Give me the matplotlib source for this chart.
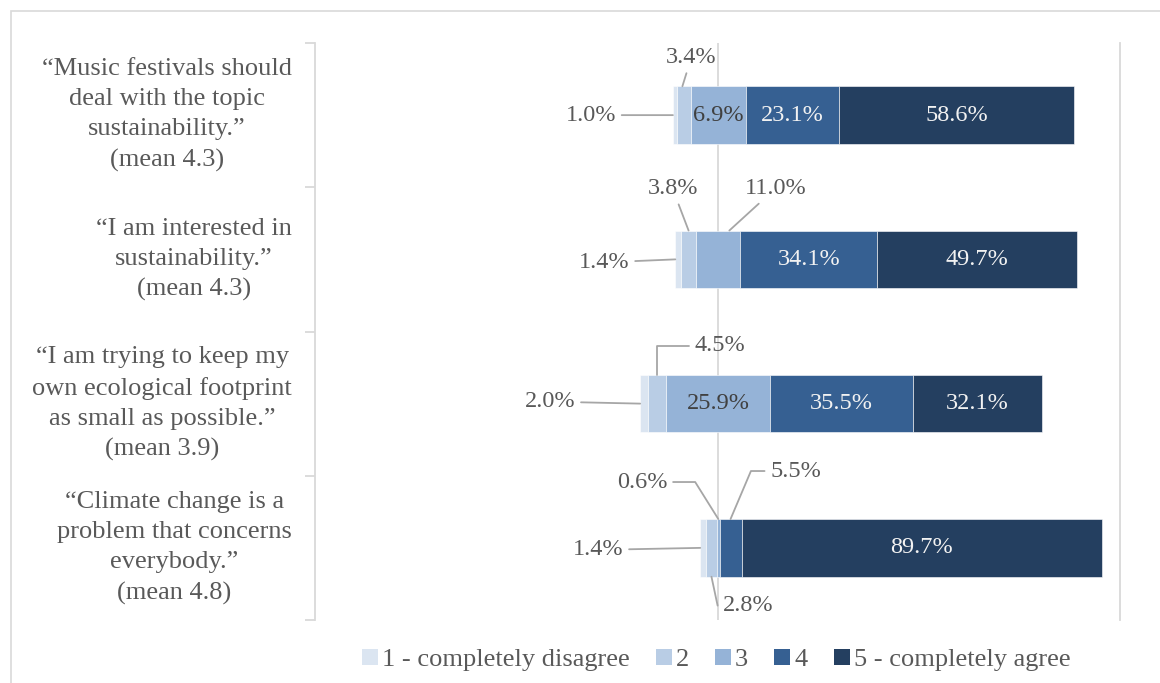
import matplotlib
matplotlib.use("Agg")
import matplotlib.pyplot as plt
from matplotlib.patches import Rectangle, Patch
import numpy as np

# ---- data ----
statements = [
    "\u201cMusic festivals should\ndeal with the topic\nsustainability.\u201d\n(mean 4.3)",
    "\u201cI am interested in\nsustainability.\u201d\n(mean 4.3)",
    "\u201cI am trying to keep my\nown ecological footprint\nas small as possible.\u201d\n(mean 3.9)",
    "\u201cClimate change is a\nproblem that concerns\neverybody.\u201d\n(mean 4.8)",
]
categories = ["1 - completely disagree", "2", "3", "4", "5 - completely agree"]
s1 = [1.0, 1.4, 2.0, 1.4]
s2 = [3.4, 3.8, 4.5, 2.8]
s3 = [13.8, 11.0, 25.9, 0.6]
s4 = [23.1, 34.1, 35.5, 5.5]
s5 = [58.6, 49.7, 32.1, 89.7]
lab1 = ["1.0%", "1.4%", "2.0%", "1.4%"]
lab2 = ["3.4%", "3.8%", "4.5%", "2.8%"]
lab3 = ["6.9%", "11.0%", "25.9%", "0.6%"]
lab4 = ["23.1%", "34.1%", "35.5%", "5.5%"]
lab5 = ["58.6%", "49.7%", "32.1%", "89.7%"]

colors = ["#dbe5f1", "#b9cde5", "#95b3d7", "#366092", "#243f60"]
series = [s1, s2, s3, s4, s5]
labels = [lab1, lab2, lab3, lab4, lab5]

FONT = "Liberation Serif"
TXT = "#595959"
GRID = "#d9d9d9"
FS = 17.5
FS_CAT = 19

W, H = 1160, 683
fig = plt.figure(figsize=(W / 100, H / 100), dpi=100)
fig.patches.append(Rectangle((11 / W, -0.1), 1.2, 1 - 11 / H + 0.1, transform=fig.transFigure,
                             fill=False, edgecolor=GRID, linewidth=1.2))
ax = fig.add_axes([315 / W, 1 - 620 / H, (1120 - 315) / W, (620 - 43) / H])

n = len(statements)
y = np.arange(n)
data = np.array(series)
left0 = -(data[0] + data[1] + data[2] / 2)
lefts = []
cur = left0.copy()
bar_h = 0.4
for k in range(5):
    ax.barh(y, data[k], left=cur, height=bar_h, color=colors[k], edgecolor="white",
            linewidth=0.4, label=categories[k], zorder=3)
    lefts.append(cur.copy())
    cur = cur + data[k]

ax.set_xlim(-100.4, 100)
ax.set_ylim(n - 0.5, -0.5)
ax.axvline(0, color=GRID, lw=1.3, zorder=1)
ax.axvline(100, color=GRID, lw=1.3, zorder=1, clip_on=False)
for sp in ["top", "right", "bottom"]:
    ax.spines[sp].set_visible(False)
ax.spines["left"].set_color(GRID)
ax.spines["left"].set_linewidth(1.3)
ax.set_xticks([])
ax.set_yticks(np.arange(-0.5, n, 1.0))
ax.set_yticklabels([])
ax.tick_params(axis="y", length=7, color=GRID, width=1.3)
ax.patch.set_alpha(0)

for i, s in enumerate(statements):
    ax.annotate(s, xy=(0, i), xycoords=("axes fraction", "data"), xytext=(-23, 0),
                textcoords="offset pixels", ha="right", va="center", multialignment="center",
                fontsize=FS_CAT, family=FONT, color=TXT, linespacing=1.47)

# inside labels
inside = {(2, 0): "#404040", (3, 0): "#f2f2f2", (4, 0): "#f2f2f2",
          (3, 1): "#f2f2f2", (4, 1): "#f2f2f2",
          (2, 2): "#404040", (3, 2): "#f2f2f2", (4, 2): "#f2f2f2",
          (4, 3): "#f2f2f2"}
for (k, i), c in inside.items():
    xc = lefts[k][i] + data[k][i] / 2
    ax.text(xc, i, labels[k][i], ha="center", va="center", fontsize=FS, family=FONT,
            color=c, zorder=5)

# outside labels with leader lines: (series, row, anchor, frac, dx, dy, connectionstyle)
LEAD = "#a6a6a6"
outside = [
    (0, 0, "left", 0, -82, 0, None),
    (1, 0, "top", 0.4, 9, 29, None),
    (0, 1, "left", 0, -71, -3, None),
    (1, 1, "top", 0.5, -16, 42, None),
    (2, 1, "top", 0.75, 46, 42, None),
    (0, 2, "left", 0, -90, 2, None),
    (1, 2, "top", 0.5, 63, 29, "angle,angleA=0,angleB=90,rad=0"),
    (0, 3, "left", 0, -102, -2, None),
    (1, 3, "bottom", 0.5, 37, -29, "angle,angleA=0,angleB=102,rad=0"),
    (2, 3, "top", 0.5, -76, 37, "angle,angleA=0,angleB=122,rad=0"),
    (3, 3, "top", 0.5, 65, 48, "angle,angleA=0,angleB=67,rad=0"),
]
for k, i, anc, frac, dx, dy, cs in outside:
    if anc == "left":
        xy = (lefts[k][i], i)
    elif anc == "top":
        xy = (lefts[k][i] + data[k][i] * frac, i - bar_h / 2)
    else:
        xy = (lefts[k][i] + data[k][i] * frac, i + bar_h / 2)
    ap = dict(arrowstyle="-", color=LEAD, lw=1.3, shrinkA=2, shrinkB=0)
    if cs:
        ap["connectionstyle"] = cs
    ax.annotate(labels[k][i], xy=xy, xytext=(dx, dy), textcoords="offset pixels",
                ha="center", va="center", fontsize=FS, family=FONT, color=TXT,
                arrowprops=ap, zorder=6)

handles = [Patch(facecolor=c, edgecolor="none") for c in colors]
fig.legend(handles, categories, loc="center", bbox_to_anchor=(716 / W, 1 - 660 / H),
           ncol=5, frameon=False, prop={"family": FONT, "size": FS_CAT},
           labelcolor=TXT, handlelength=0.6, handleheight=0.6, handletextpad=0.15,
           columnspacing=1.0)

fig.savefig("out.png", dpi=100)
